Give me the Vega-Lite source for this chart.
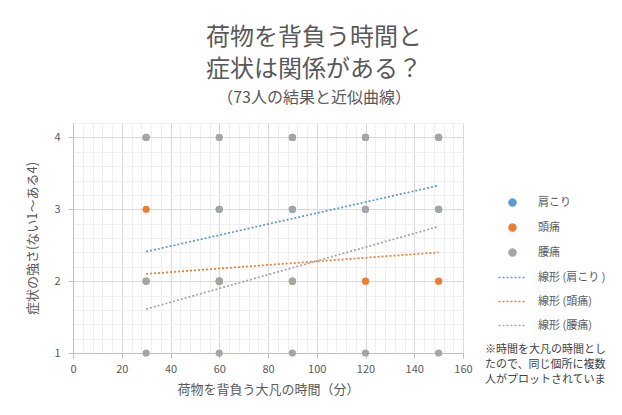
{
  "$schema": "https://vega.github.io/schema/vega-lite/v6.json",
  "width": 390,
  "height": 230,
  "autosize": {"type": "none"},
  "padding": {"left": 73, "top": 123, "right": 159, "bottom": 62},
  "background": "white",
  "config": {
    "font": "Noto Sans CJK JP",
    "view": {"stroke": null}
  },
  "title": {
    "text": ["荷物を背負う時間と", "症状は関係がある？"],
    "subtitle": "（73人の結果と近似曲線）",
    "color": "#595959",
    "subtitleColor": "#595959",
    "fontSize": 24,
    "fontWeight": "normal",
    "lineHeight": 32,
    "subtitleFontSize": 16,
    "subtitlePadding": 8,
    "anchor": "middle",
    "frame": "group",
    "dx": 46,
    "offset": 11
  },
  "datasets": {
    "points": [
      {"series": "肩こり", "time": 30, "level": 2},
      {"series": "肩こり", "time": 30, "level": 4},
      {"series": "肩こり", "time": 60, "level": 2},
      {"series": "肩こり", "time": 60, "level": 3},
      {"series": "肩こり", "time": 90, "level": 3},
      {"series": "肩こり", "time": 90, "level": 4},
      {"series": "肩こり", "time": 120, "level": 3},
      {"series": "肩こり", "time": 120, "level": 4},
      {"series": "肩こり", "time": 150, "level": 3},
      {"series": "肩こり", "time": 150, "level": 4},
      {"series": "頭痛", "time": 30, "level": 3},
      {"series": "頭痛", "time": 60, "level": 2},
      {"series": "頭痛", "time": 90, "level": 2},
      {"series": "頭痛", "time": 120, "level": 2},
      {"series": "頭痛", "time": 150, "level": 2},
      {"series": "腰痛", "time": 30, "level": 1},
      {"series": "腰痛", "time": 30, "level": 2},
      {"series": "腰痛", "time": 30, "level": 4},
      {"series": "腰痛", "time": 60, "level": 1},
      {"series": "腰痛", "time": 60, "level": 2},
      {"series": "腰痛", "time": 60, "level": 3},
      {"series": "腰痛", "time": 60, "level": 4},
      {"series": "腰痛", "time": 90, "level": 1},
      {"series": "腰痛", "time": 90, "level": 2},
      {"series": "腰痛", "time": 90, "level": 3},
      {"series": "腰痛", "time": 90, "level": 4},
      {"series": "腰痛", "time": 120, "level": 1},
      {"series": "腰痛", "time": 120, "level": 3},
      {"series": "腰痛", "time": 120, "level": 4},
      {"series": "腰痛", "time": 150, "level": 1},
      {"series": "腰痛", "time": 150, "level": 3},
      {"series": "腰痛", "time": 150, "level": 4}
    ],
    "trends": [
      {"series": "線形 (肩こり )", "time": 30, "level": 2.41},
      {"series": "線形 (肩こり )", "time": 150, "level": 3.33},
      {"series": "線形 (頭痛)", "time": 30, "level": 2.1},
      {"series": "線形 (頭痛)", "time": 150, "level": 2.4},
      {"series": "線形 (腰痛)", "time": 30, "level": 1.61},
      {"series": "線形 (腰痛)", "time": 150, "level": 2.76}
    ],
    "note": [
      {"time": 169, "level": 1.125, "text": "※時間を大凡の時間とし\nたので、同じ個所に複数\n人がプロットされていま"}
    ]
  },
  "encoding": {
    "x": {
      "field": "time",
      "type": "quantitative",
      "scale": {"domain": [0, 160], "nice": false, "zero": false},
      "axis": {
        "title": "荷物を背負う大凡の時間（分）",
        "values": [0,4,8,12,16,20,24,28,32,36,40,44,48,52,56,60,64,68,72,76,80,84,88,92,96,100,104,108,112,116,120,124,128,132,136,140,144,148,152,156,160],
        "labelExpr": "datum.value % 20 === 0 ? format(datum.value, 'd') : ''",
        "labelOverlap": false,
        "labelBound": false,
        "labelFlush": false,
        "grid": true,
        "gridColor": {"condition": {"test": "datum.value % 20 === 0", "value": "#d9d9d9"}, "value": "#f0f0f0"},
        "gridWidth": 1,
        "tickOpacity": {"condition": {"test": "datum.value % 20 === 0", "value": 1}, "value": 0},
        "tickColor": "#bfbfbf",
        "tickSize": 5,
        "domainColor": "#bfbfbf",
        "labelColor": "#595959",
        "labelFontSize": 11,
        "labelPadding": 5,
        "titleColor": "#595959",
        "titleFontSize": 13,
        "titleFontWeight": "normal",
        "titlePadding": 9
      }
    },
    "y": {
      "field": "level",
      "type": "quantitative",
      "scale": {"domain": [1, 4.2], "nice": false, "zero": false},
      "axis": {
        "title": "症状の強さ(ない1～ある4)",
        "values": [1,1.2,1.4,1.6,1.8,2,2.2,2.4,2.6,2.8,3,3.2,3.4,3.6,3.8,4,4.2],
        "labelExpr": "abs(datum.value - round(datum.value)) < 0.001 ? format(datum.value, 'd') : ''",
        "labelOverlap": false,
        "labelBound": false,
        "labelFlush": false,
        "grid": true,
        "gridColor": {"condition": {"test": "abs(datum.value - round(datum.value)) < 0.001", "value": "#d9d9d9"}, "value": "#f0f0f0"},
        "gridWidth": 1,
        "tickOpacity": {"condition": {"test": "abs(datum.value - round(datum.value)) < 0.001", "value": 1}, "value": 0},
        "tickColor": "#bfbfbf",
        "tickSize": 5,
        "domainColor": "#bfbfbf",
        "labelColor": "#595959",
        "labelFontSize": 11,
        "labelPadding": 8,
        "titleColor": "#595959",
        "titleFontSize": 13,
        "titleFontWeight": "normal",
        "titlePadding": 14
      }
    }
  },
  "layer": [
    {
      "data": {"name": "points"},
      "mark": {"type": "point", "filled": true, "opacity": 1, "size": 52},
      "encoding": {
        "color": {
          "field": "series",
          "type": "nominal",
          "scale": {
            "domain": ["肩こり", "頭痛", "腰痛", "線形 (肩こり )", "線形 (頭痛)", "線形 (腰痛)"],
            "range": ["#5b9bd5", "#ed7d31", "#a5a5a5", "#5b9bd5", "#ed7d31", "#a5a5a5"]
          },
          "legend": {
            "orient": "none",
            "legendX": 434,
            "legendY": 74,
            "title": null,
            "labelColor": "#595959",
            "labelFontSize": 11,
            "labelOffset": 20,
            "rowPadding": 12,
            "symbolSize": 49,
            "symbolStrokeWidth": 1.5
          }
        },
        "shape": {
          "field": "series",
          "type": "nominal",
          "scale": {
            "domain": ["肩こり", "頭痛", "腰痛", "線形 (肩こり )", "線形 (頭痛)", "線形 (腰痛)"],
            "range": ["circle", "circle", "circle", "M-4,0L4,0", "M-4,0L4,0", "M-4,0L4,0"]
          }
        }
      }
    },
    {
      "data": {"name": "trends"},
      "mark": {"type": "line", "strokeWidth": 1.75},
      "encoding": {
        "detail": {"field": "series", "type": "nominal"},
        "color": {"field": "series", "type": "nominal"},
        "strokeDash": {
          "field": "series",
          "type": "nominal",
          "scale": {
            "domain": ["肩こり", "頭痛", "腰痛", "線形 (肩こり )", "線形 (頭痛)", "線形 (腰痛)"],
            "range": [[1, 0], [1, 0], [1, 0], [2, 2], [2, 2], [2, 2]]
          }
        }
      }
    },
    {
      "data": {"name": "note"},
      "mark": {"type": "text", "align": "left", "baseline": "top", "lineBreak": "\n", "lineHeight": 15, "fontSize": 11, "color": "#404040"},
      "encoding": {
        "text": {"field": "text"}
      }
    }
  ]
}
